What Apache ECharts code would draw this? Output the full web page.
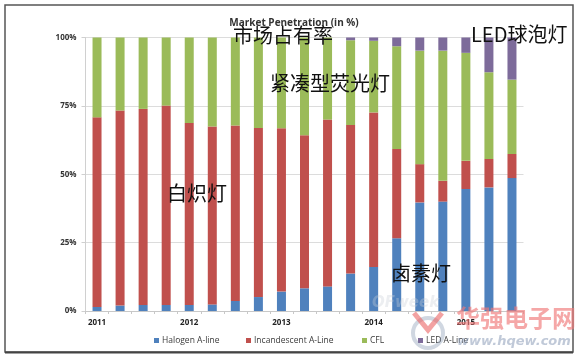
<!DOCTYPE html>
<html><head><meta charset="utf-8">
<script src="https://cdn.jsdelivr.net/npm/echarts@6/dist/echarts.min.js"></script>
<style>html,body{margin:0;padding:0;background:#fff}#c{width:582px;height:359px}</style>
</head><body><div id="c"></div>
<script>
var categories = ["2011 Q1","2011 Q2","2011 Q3","2011 Q4","2012 Q1","2012 Q2","2012 Q3","2012 Q4","2013 Q1","2013 Q2","2013 Q3","2013 Q4","2014 Q1","2014 Q2","2014 Q3","2014 Q4","2015 Q1","2015 Q2","2015 Q3"];
var halogen      = [1.5,2,2.2,2.2,2.2,2.4,3.7,5.1,7.1,8.3,9.0,13.7,16.1,26.6,39.7,40,44.6,45.2,48.6];
var incandescent = [69.3,71.3,71.7,72.9,66.5,65.1,64.1,61.8,59.7,56,61,54.3,56.5,32.6,14,7.6,10.3,10.4,8.8];
var cfl          = [29.2,26.7,26.1,24.9,31.3,32.5,32.2,33.1,33.2,35.7,30,31,26.2,37.6,41.5,47.6,39.5,31.7,27.2];
var ledLine      = [0,0,0,0,0,0,0,0,0,0,0,1,1.2,3.2,4.8,4.8,5.6,12.7,15.4];
var seriesNames  = ["Halogen A-line","Incandescent A-Line","CFL","LED A-Line"];
var yTicks = [0,25,50,75,100];

var colors = ["#4F81BD","#C0504D","#9BBB59","#7D6B9A"];
var chart = echarts.init(document.getElementById('c'), null, {renderer:'canvas'});
function legend(name, left){
  return {data:[name], left:left, top:336, itemWidth:5, itemHeight:5, itemGap:0, icon:'rect', padding:0,
    textStyle:{fontFamily:'Open Sans', fontSize:8.5, color:'#3a3a3a', padding:[0,0,0,-2]}};
}
var data = [halogen, incandescent, cfl, ledLine];
var annot = function(t,x,y,size){return {type:'text', left:x, top:y, style:{text:t, font:'400 '+(size||20)+'px "Noto Sans CJK SC"', fill:'#111'}, z:100};};
chart.setOption({
  animation:false,
  color:colors,
  title:{text:'Market Penetration (in %)', left:289, top:13, textAlign:'center',
    textStyle:{fontFamily:'Open Sans', fontWeight:'bold', fontSize:10, color:'#333'}},
  legend:[legend(seriesNames[0],154), legend(seriesNames[1],246), legend(seriesNames[2],362), legend(seriesNames[3],418)],
  grid:{left:85.5, right:58.5, top:37.5, bottom:48},
  xAxis:{type:'category', data:categories,
    axisLine:{lineStyle:{color:'#c8c8c8'}},
    axisTick:{show:true, length:3, alignWithLabel:false, lineStyle:{color:'#c8c8c8'}},
    axisLabel:{interval:0, margin:8, fontFamily:'Open Sans', fontWeight:'bold', fontSize:8, color:'#222',
      formatter:function(v){return v.slice(-2)==='Q1' ? v.slice(0,4) : '';}}},
  yAxis:{type:'value', min:0, max:100, interval:25,
    axisLine:{show:true, lineStyle:{color:'#d0d0d0'}},
    axisTick:{show:true, length:4, lineStyle:{color:'#d0d0d0'}},
    splitLine:{lineStyle:{color:'#dcdcdc'}},
    axisLabel:{margin:9, fontFamily:'Open Sans', fontWeight:'bold', fontSize:8, color:'#333',
      formatter:function(v){return yTicks.indexOf(v)>=0 ? v+'%' : '';}}},
  series: seriesNames.map(function(n,i){
    return {name:n, type:'bar', stack:'total', barWidth:9, data:data[i], itemStyle:{color:colors[i]}};
  }),
  graphic:[
    {type:'rect', shape:{x:5, y:5, width:568, height:347}, style:{fill:'none', stroke:'#555', lineWidth:1.5}, z:0, silent:true},
    {type:'line', shape:{x1:5, y1:352.5, x2:573, y2:352.5}, style:{stroke:'#444', lineWidth:2}, z:0, silent:true},
    {type:'text', left:372, top:296, style:{text:'OFweek', font:'italic bold 15px "DejaVu Sans"', fill:'rgba(200,205,215,0.35)'}, z:90},
    {type:'circle', shape:{cx:428, cy:333, r:15}, style:{fill:'none', stroke:'rgba(120,140,170,0.35)', lineWidth:4}, z:90},
    {type:'polyline', shape:{points:[[414,313],[428,330],[442,313]]}, style:{fill:'none', stroke:'rgba(235,100,100,0.6)', lineWidth:5}, z:91},
    {type:'text', left:456, top:306, style:{text:'华强电子网', font:'bold 24px "Noto Sans CJK SC"', fill:'rgba(240,120,120,0.65)'}, z:90},
    {type:'text', left:457, top:335, style:{text:'www.hqew.com', font:'italic bold 13px "DejaVu Sans"', fill:'rgba(150,165,190,0.6)'}, z:90},
    annot('市场占有率',233,25),
    annot('紧凑型荧光灯',270,73),
    annot('白炽灯',167,183),
    annot('卤素灯',391,263),
    annot('LED球泡灯',471,24)
  ]
});
</script></body></html>
